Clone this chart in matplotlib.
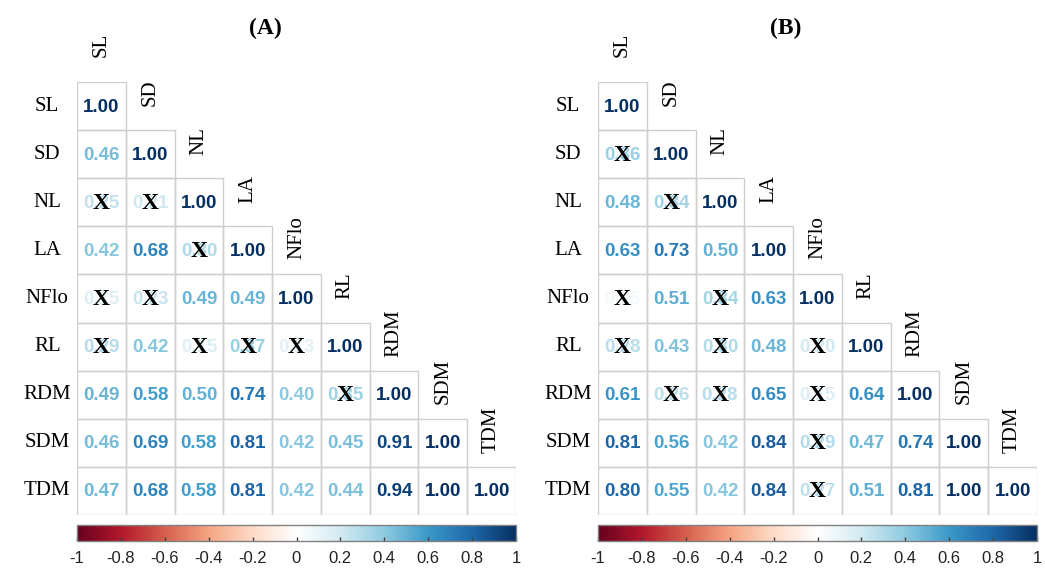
import matplotlib.pyplot as plt
from matplotlib.colors import LinearSegmentedColormap, Normalize
from matplotlib.cm import ScalarMappable
from matplotlib.patches import Rectangle


variables = ["SL", "SD", "NL", "LA", "NFlo", "RL", "RDM", "SDM", "TDM"]

# lower triangle, row by row
corr_a = [
    [1.00],
    [0.46, 1.00],
    [0.25, 0.21, 1.00],
    [0.42, 0.68, 0.30, 1.00],
    [0.15, 0.23, 0.49, 0.49, 1.00],
    [0.29, 0.42, 0.15, 0.37, 0.13, 1.00],
    [0.49, 0.58, 0.50, 0.74, 0.40, 0.35, 1.00],
    [0.46, 0.69, 0.58, 0.81, 0.42, 0.45, 0.91, 1.00],
    [0.47, 0.68, 0.58, 0.81, 0.42, 0.44, 0.94, 1.00, 1.00],
]
nonsig_a = [(2, 0), (2, 1), (3, 2), (4, 0), (4, 1), (5, 0), (5, 2), (5, 3), (5, 4), (6, 5)]

corr_b = [
    [1.00],
    [0.36, 1.00],
    [0.48, 0.34, 1.00],
    [0.63, 0.73, 0.50, 1.00],
    [0.05, 0.51, 0.34, 0.63, 1.00],
    [0.28, 0.43, 0.30, 0.48, 0.20, 1.00],
    [0.61, 0.26, 0.28, 0.65, 0.15, 0.64, 1.00],
    [0.81, 0.56, 0.42, 0.84, 0.29, 0.47, 0.74, 1.00],
    [0.80, 0.55, 0.42, 0.84, 0.27, 0.51, 0.81, 1.00, 1.00],
]
nonsig_b = [(1, 0), (2, 1), (4, 0), (4, 2), (5, 0), (5, 2), (5, 4), (6, 1), (6, 2), (6, 4), (7, 4), (8, 4)]

cbar_ticks = [-1, -0.8, -0.6, -0.4, -0.2, 0, 0.2, 0.4, 0.6, 0.8, 1]

# corrplot's default palette, blue side nudged a bit toward cyan like the scan
cmap = LinearSegmentedColormap.from_list("corr", [
    "#67001F", "#B2182B", "#D6604D", "#F4A582", "#FDDBC7", "#FFFFFF",
    "#D3EAF2", "#8ECBE0", "#3A99C8", "#1E68AA", "#053061"])
norm = Normalize(-1, 1)

W, H = 1045, 572
fig = plt.figure(figsize=(W / 100, H / 100), dpi=100)


def draw_panel(left, title, corr, nonsig):
    n = len(variables)
    ax = fig.add_axes([left / W, 1 - 515 / H, 439 / W, 433 / H])
    ax.set_xlim(0, n)
    ax.set_ylim(n, 0)
    ax.axis("off")
    for i, row in enumerate(corr):
        for j, v in enumerate(row):
            ax.add_patch(Rectangle((j, i), 1, 1, fill=False, ec="#cfcfcf", lw=1))
            ax.text(j + 0.5, i + 0.52, f"{v:.2f}", ha="center", va="center",
                    color=cmap(norm(v)), fontsize=13.5, fontweight="bold",
                    family="Liberation Sans")
            if (i, j) in nonsig:
                ax.text(j + 0.5, i + 0.52, "X", ha="center", va="center",
                        color="black", fontsize=17, fontweight="bold",
                        family="Liberation Serif")
    for k, name in enumerate(variables):
        ax.text(-0.61, k + 0.5, name, ha="center", va="center", fontsize=15,
                family="Liberation Serif", clip_on=False)
        ax.text(k + 0.5, k - 0.77, name, ha="center", va="center", fontsize=15,
                rotation=90, family="Liberation Serif", clip_on=False)
    fig.text((left + 188) / W, 1 - 28 / H, title, ha="center", va="center",
             fontsize=17, fontweight="bold", family="Liberation Serif")

    cax = fig.add_axes([left / W, 1 - 541 / H, 439 / W, 16 / H])
    cb = fig.colorbar(ScalarMappable(norm=norm, cmap=cmap), cax=cax,
                      orientation="horizontal", ticks=cbar_ticks)
    cb.outline.set_edgecolor("#808080")
    cb.outline.set_linewidth(1)
    cb.ax.set_xticklabels([f"{t:g}" for t in cbar_ticks])
    cb.ax.tick_params(direction="in", length=3, width=1, color="#404040",
                      labelsize=12, pad=7, labelcolor="#222222")
    for lab in cb.ax.get_xticklabels():
        lab.set_family("Liberation Sans")


draw_panel(77, "(A)", corr_a, nonsig_a)
draw_panel(598, "(B)", corr_b, nonsig_b)

fig.savefig("out.png", dpi=100, facecolor="white")
